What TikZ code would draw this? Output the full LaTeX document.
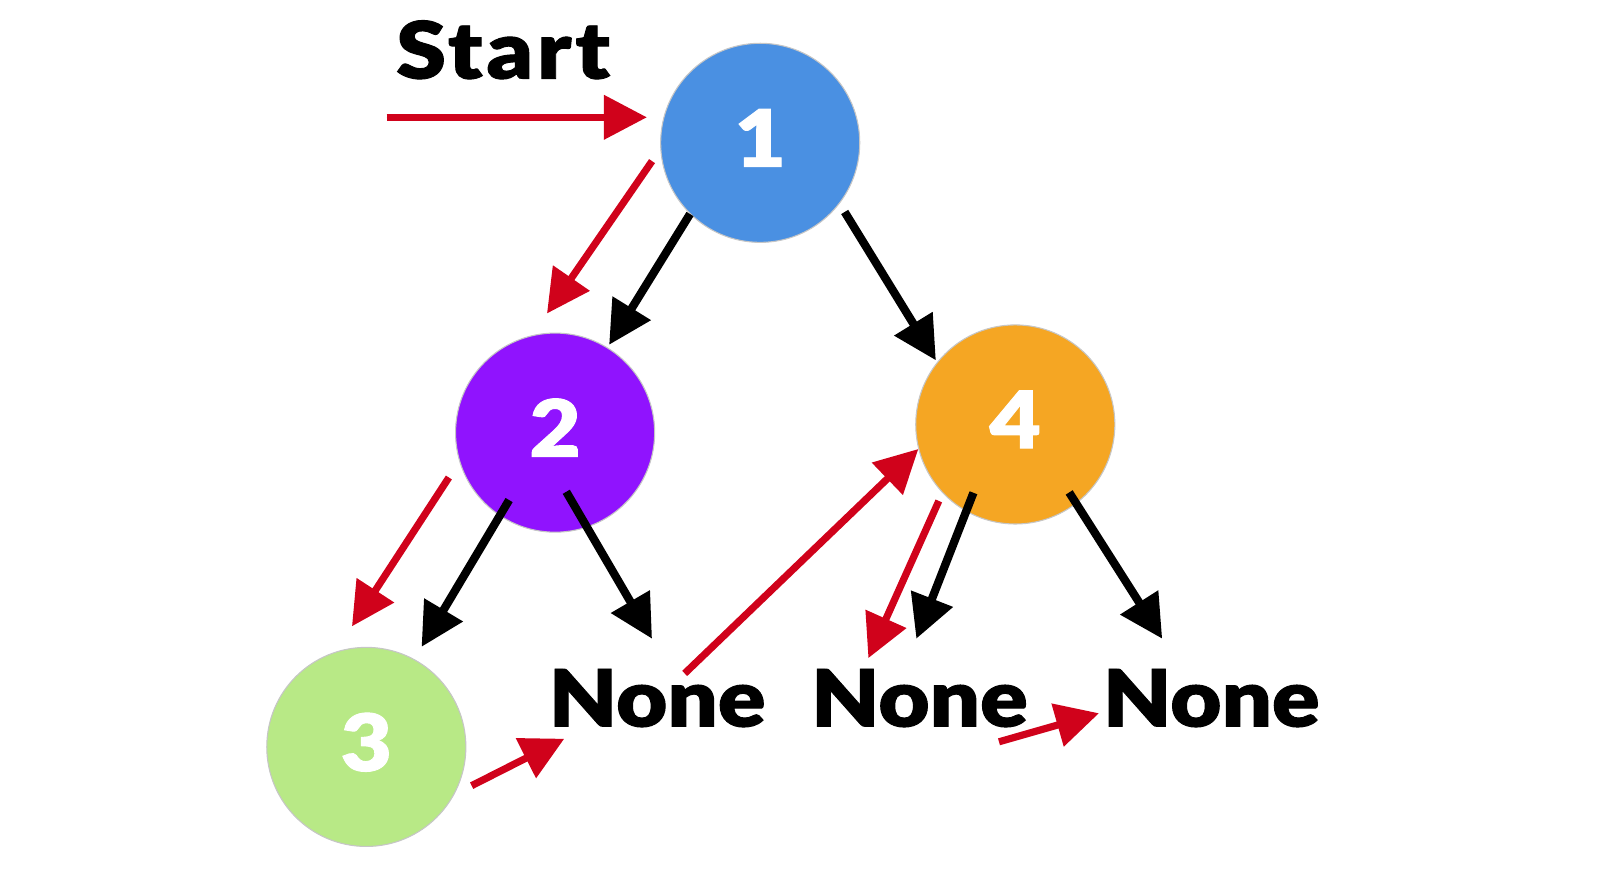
\documentclass[tikz,border=0pt]{standalone}
\usepackage{fontspec}
\newfontfamily\gras{Lato Black}[FakeStretch=1.12, FakeBold=1.2]
\newfontfamily\grasl{Lato Black}[FakeStretch=1.14, FakeBold=1.2, LetterSpace=5]
\usepackage{tikz}
\usetikzlibrary{calc}
\usetikzlibrary{arrows.meta}
\definecolor{bleu}{HTML}{4A90E2}
\definecolor{pourpre}{HTML}{9013FE}
\definecolor{jaune}{HTML}{F5A623}
\definecolor{vert}{HTML}{B8E986}
\definecolor{rouge}{HTML}{D0021B}
\begin{document}
\begin{tikzpicture}[x=0.01cm, y=0.01cm,
    noeud/.style={circle, minimum size=1.95cm, inner sep=0pt, outer sep=0pt, draw=gray!45, line width=0.3pt, text=white, text depth=2.8pt, font=\gras\fontsize{22}{26}\selectfont},
    vide/.style={anchor=base, inner sep=0pt, font=\gras\fontsize{22}{26}\selectfont},
    fleche/.style={line width=2.3pt, -{Triangle[length=12pt, width=12pt]}},
    rfleche/.style={fleche, draw=rouge, fill=rouge, line width=2pt}]
                \useasboundingbox (0,0) rectangle (1568,862);

                % noeuds
                \node[noeud, fill=bleu] (n1) at (745,722) {1};
                \node[noeud, fill=pourpre] (n2) at (544,438) {2};
                \node[noeud, fill=jaune] (n4) at (995,446) {4};
                \node[noeud, fill=vert] (n3) at (359,130) {3};
                \node[vide] (v1) at (644,150) {None};
                \node[vide] (v2) at (901,150) {None};
                \node[vide] (v3) at (1187,150) {None};
                \node[vide, font=\grasl\fontsize{22}{26}\selectfont] (start) at (493,785) {Start};

                % flèches noires
                \draw[fleche] ($(n1)+(225.4:98)$) -- ($(n2)+(58.4:101)$);
                \draw[fleche] ($(n1)+(-39.3:107)$) -- ($(n4)+(141.1:100)$);
                \draw[fleche] ($(n2)+(235.7:80)$) -- ($(n3)+(61.1:112)$);
                \draw[fleche] ($(n2)+(-79.3:59)$) -- ($(v1.base)+(-5,86)$);
                \draw[fleche] ($(n4)+(238.5:78.5)$) -- ($(v2.base)+(-3,86)$);
                \draw[fleche] ($(n4)+(-51.6:85)$) -- ($(v3.base)+(-48,86)$);

                % parcours en rouge
                \draw[rfleche] ($(start.base)+(-114,-38)$) -- ($(n1)+(-111,25)$);
                \draw[rfleche] ($(n1)+(189.6:107.5)$) -- ($(n2)+(93.9:117)$);
                \draw[rfleche] ($(n2)+(202.9:113)$) -- ($(n3)+(96.8:119)$);
                \draw[rfleche] ($(n3)+(-20.2:110)$) -- ($(v1.base)+(-91,-12)$);
                \draw[rfleche] ($(v1.base)+(27,52)$) -- ($(n4)+(194.2:98)$);
                \draw[rfleche] ($(n4)+(225:106)$) -- ($(v2.base)+(-50,67)$);
                \draw[rfleche] ($(v2.base)+(78,-15)$) -- ($(v3.base)+(-110,13)$);
            \end{tikzpicture}
\end{document}
